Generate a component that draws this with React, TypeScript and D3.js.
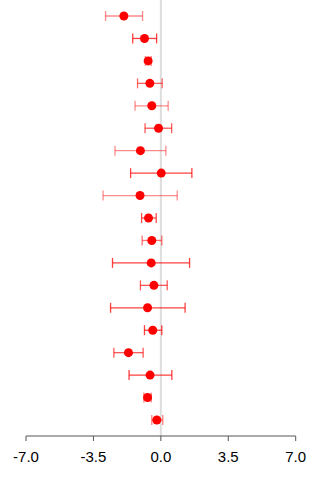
import React from "react";
import * as d3 from "d3";

// Effect estimates with lower / upper interval bounds, one per study row
const estimates = [-1.92, -0.85, -0.66, -0.57, -0.47, -0.12, -1.06, 0.02, -1.08, -0.64, -0.47, -0.5, -0.36, -0.69, -0.42, -1.68, -0.56, -0.69, -0.21];
const lowers = [-2.87, -1.46, -0.8, -1.21, -1.34, -0.82, -2.38, -1.57, -3.0, -1.0, -0.97, -2.51, -1.06, -2.61, -0.85, -2.44, -1.65, -0.88, -0.47];
const uppers = [-0.95, -0.22, -0.5, 0.07, 0.38, 0.56, 0.26, 1.61, 0.85, -0.24, 0.05, 1.49, 0.33, 1.26, 0.05, -0.92, 0.57, -0.5, 0.1];
// Relative weight of each study, shown as the interval opacity
const weights = [0.45, 0.75, 0.5, 0.6, 0.45, 0.65, 0.45, 0.75, 0.45, 0.7, 0.55, 0.75, 0.65, 0.75, 0.75, 0.65, 0.75, 0.5, 0.5];
const tickValues = [-7, -3.5, 0, 3.5, 7];
const tickLabels = ["-7.0", "-3.5", "0.0", "3.5", "7.0"];

const W = 320;
const H = 480;

export default function App() {
  const x = d3.scaleLinear().domain([-7, 7]).range([26, 295.7]);
  const rows = d3.range(estimates.length);
  const y = d3.scalePoint<number>().domain(rows).range([16, 420]);
  const axisY = 436;
  const cap = 5;

  return (
    <svg
      width={W}
      height={H}
      style={{ position: "absolute", left: 0, top: 0, background: "#fff" }}
      fontFamily="'Liberation Sans', Arial, sans-serif"
    >
      <line x1={x(0)} x2={x(0)} y1={0} y2={axisY} stroke="#dddddd" strokeWidth={2} />
      {rows.map((i) => {
        const yy = y(i)!;
        const lo = x(lowers[i]);
        const hi = x(uppers[i]);
        return (
          <g key={i} stroke="#ff0000" strokeOpacity={weights[i]} strokeWidth={1.3}>
            <line x1={lo} x2={hi} y1={yy} y2={yy} />
            <line x1={lo} x2={lo} y1={yy - cap} y2={yy + cap} />
            <line x1={hi} x2={hi} y1={yy - cap} y2={yy + cap} />
          </g>
        );
      })}
      {rows.map((i) => (
        <circle key={i} cx={x(estimates[i])} cy={y(i)!} r={4.5} fill="#ff0000" />
      ))}
      <g>
        <line x1={x(-7)} x2={x(7)} y1={axisY} y2={axisY} stroke="#555" strokeWidth={1} />
        {tickValues.map((t, k) => (
          <g key={t}>
            <line x1={x(t)} x2={x(t)} y1={axisY} y2={axisY + 5} stroke="#555" strokeWidth={1} />
            <text x={x(t)} y={462} textAnchor="middle" fontSize={15} fill="#000">
              {tickLabels[k]}
            </text>
          </g>
        ))}
      </g>
    </svg>
  );
}
